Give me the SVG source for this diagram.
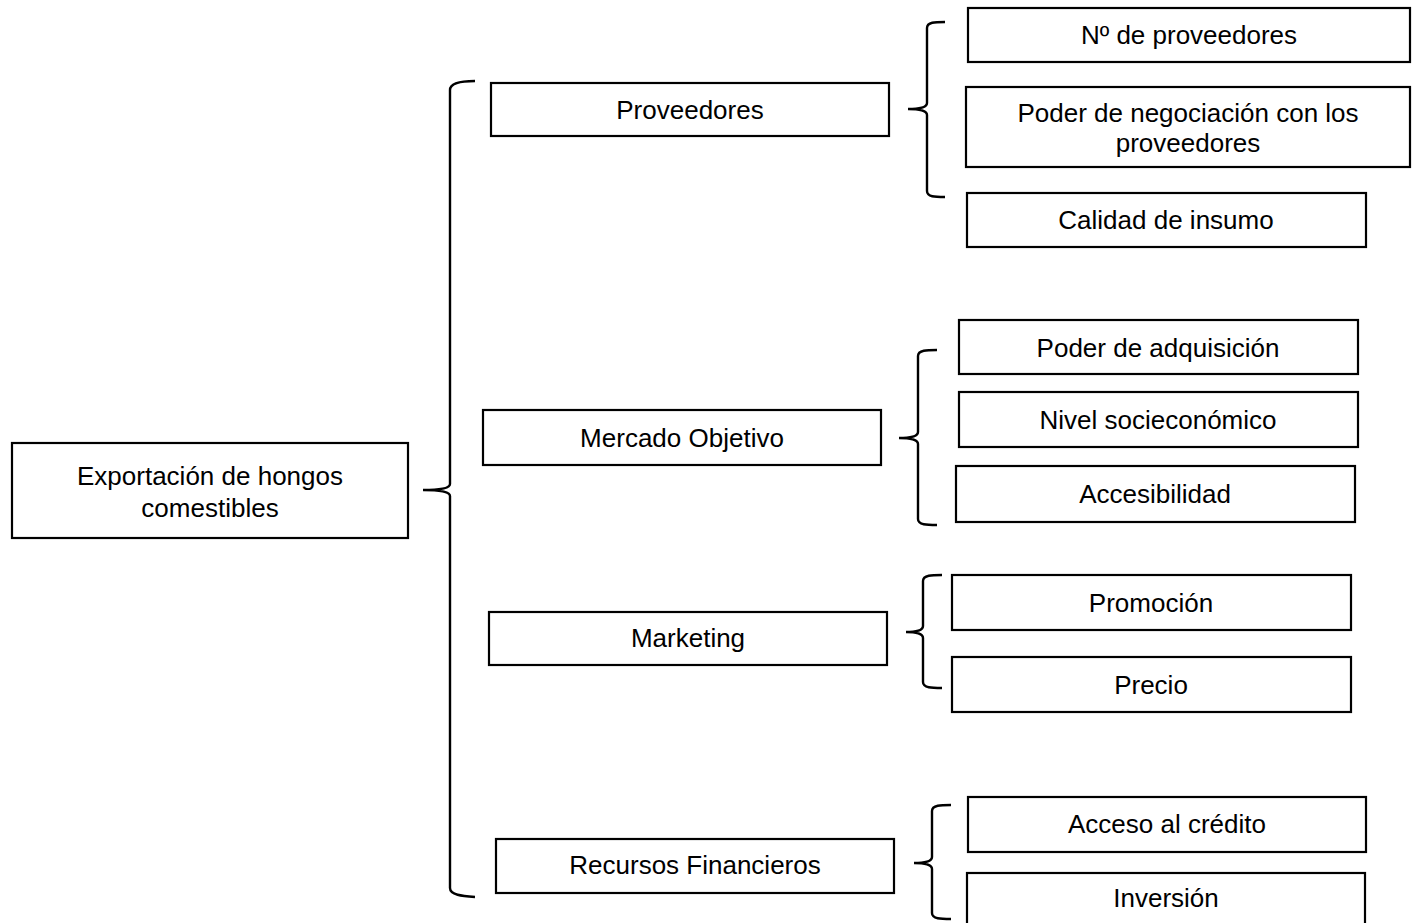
<svg xmlns="http://www.w3.org/2000/svg" width="1419" height="923" viewBox="0 0 1419 923">
<style>
.box{fill:#fff;stroke:#000;stroke-width:2.2}
.br{fill:none;stroke:#000;stroke-width:2.4;stroke-linecap:butt}
text{font-family:"Liberation Sans",Arial,sans-serif;font-size:26px;fill:#000;text-anchor:middle}
</style>
<rect width="1419" height="923" fill="#fff"/>
<g id="connectors">
<path class="br" d="M475,81 C462,81 450,83 450,90 L450,484 Q450,490 423,490 Q450,490 450,496 L450,888 C450,895 462,896 475,897"/>
<path class="br" d="M945,22 C935,22 927,22 927,28 L927,103 Q927,109 908,109 Q927,109 927,115 L927,191 C927,197 935,197 945,197"/>
<path class="br" d="M937,350 C927,350 918,350 918,356 L918,432 Q918,438 899,438 Q918,438 918,444 L918,519 C918,525 927,525 937,525"/>
<path class="br" d="M942,575 C932,575 923,575 923,581 L923,626 Q923,632 906,632 Q923,632 923,638 L923,682 C923,688 932,688 942,688"/>
<path class="br" d="M951,805 C941,805 932,805 932,811 L932,857 Q932,863 914,863 Q932,863 932,869 L932,913 C932,919 941,919 951,919"/>
</g>
<g id="root"><rect class="box" x="12" y="443" width="396" height="95"/><text x="210" y="485">Exportación de hongos</text><text x="210" y="517">comestibles</text></g>
<g id="proveedores"><rect class="box" x="491" y="83" width="398" height="53"/><text x="690" y="119">Proveedores</text></g>
<g id="mercado"><rect class="box" x="483" y="410" width="398" height="55"/><text x="682" y="447">Mercado Objetivo</text></g>
<g id="marketing"><rect class="box" x="489" y="612" width="398" height="53"/><text x="688" y="647">Marketing</text></g>
<g id="recursos"><rect class="box" x="496" y="839" width="398" height="54"/><text x="695" y="874">Recursos Financieros</text></g>
<g id="n-proveedores"><rect class="box" x="968" y="8" width="442" height="54"/><text x="1189" y="44">Nº de proveedores</text></g>
<g id="poder-negociacion"><rect class="box" x="966" y="87" width="444" height="80"/><text x="1188" y="122">Poder de negociación con los</text><text x="1188" y="152">proveedores</text></g>
<g id="calidad"><rect class="box" x="967" y="193" width="399" height="54"/><text x="1166" y="229">Calidad de insumo</text></g>
<g id="poder-adquisicion"><rect class="box" x="959" y="320" width="399" height="54"/><text x="1158" y="357">Poder de adquisición</text></g>
<g id="nivel"><rect class="box" x="959" y="392" width="399" height="55"/><text x="1158" y="429">Nivel socieconómico</text></g>
<g id="accesibilidad"><rect class="box" x="956" y="466" width="399" height="56"/><text x="1155" y="503">Accesibilidad</text></g>
<g id="promocion"><rect class="box" x="952" y="575" width="399" height="55"/><text x="1151" y="612">Promoción</text></g>
<g id="precio"><rect class="box" x="952" y="657" width="399" height="55"/><text x="1151" y="694">Precio</text></g>
<g id="acceso"><rect class="box" x="968" y="797" width="398" height="55"/><text x="1167" y="833">Acceso al crédito</text></g>
<g id="inversion"><rect class="box" x="967" y="873" width="398" height="60"/><text x="1166" y="907">Inversión</text></g>
</svg>
